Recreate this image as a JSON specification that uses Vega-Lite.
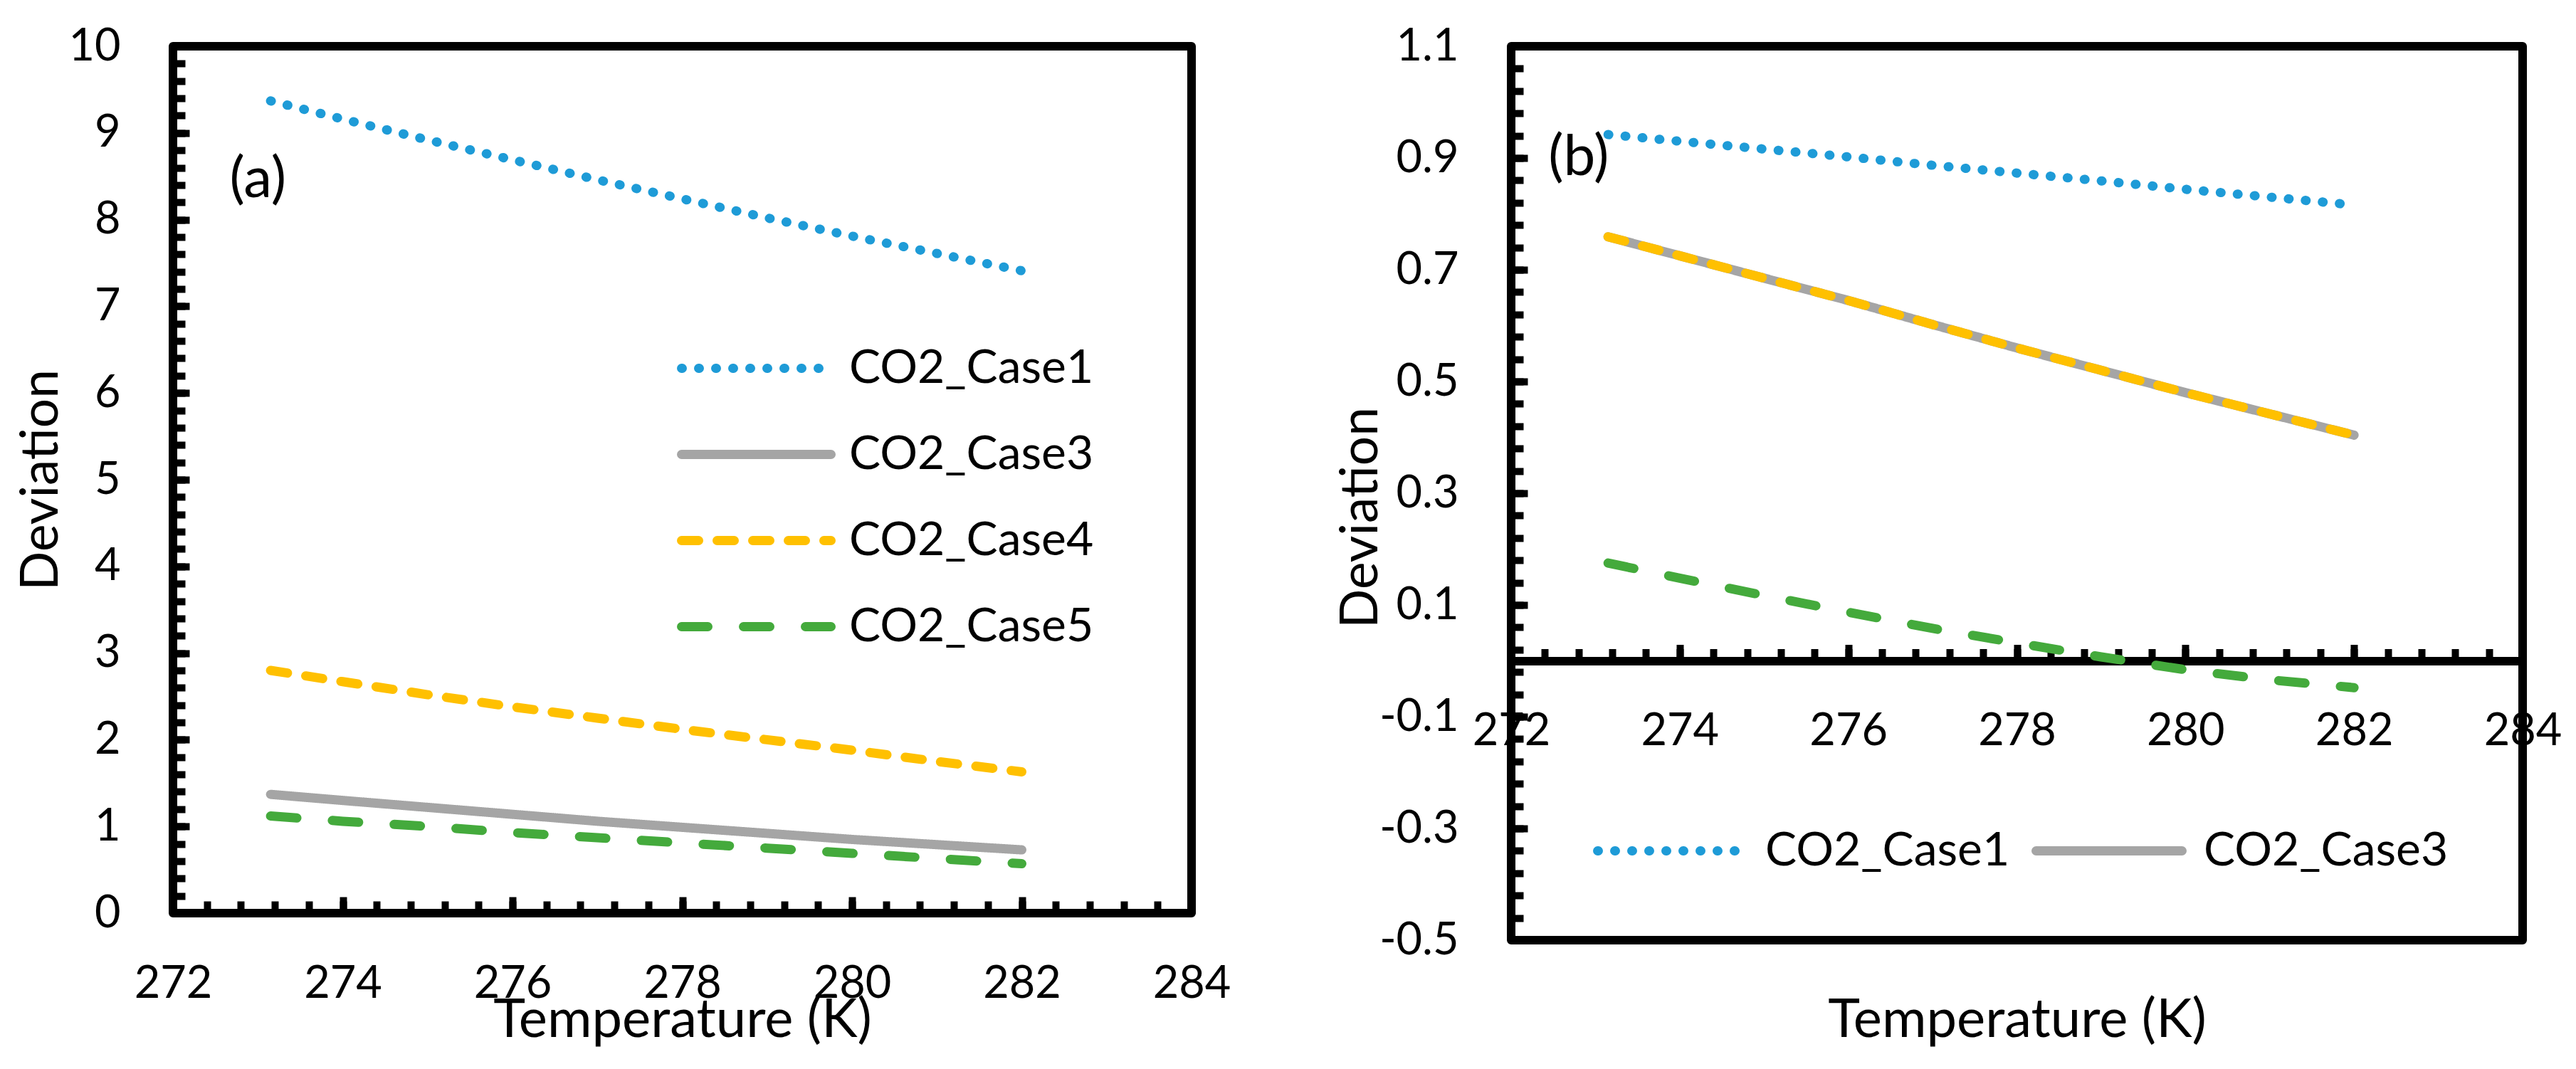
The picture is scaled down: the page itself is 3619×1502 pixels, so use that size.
{
  "$schema": "https://vega.github.io/schema/vega-lite/v6.json",
  "background": "white",
  "padding": {"left": 16, "top": 28, "right": 10, "bottom": 10},
  "spacing": 135,
  "datasets": {
    "panelA": [
      {"T": 273.15, "dev": 9.37, "series": "CO2_Case1"},
      {"T": 274, "dev": 9.16, "series": "CO2_Case1"},
      {"T": 275, "dev": 8.92, "series": "CO2_Case1"},
      {"T": 276, "dev": 8.69, "series": "CO2_Case1"},
      {"T": 277, "dev": 8.46, "series": "CO2_Case1"},
      {"T": 278, "dev": 8.24, "series": "CO2_Case1"},
      {"T": 279, "dev": 8.02, "series": "CO2_Case1"},
      {"T": 280, "dev": 7.81, "series": "CO2_Case1"},
      {"T": 281, "dev": 7.61, "series": "CO2_Case1"},
      {"T": 282, "dev": 7.41, "series": "CO2_Case1"},
      {"T": 273.15, "dev": 1.37, "series": "CO2_Case3"},
      {"T": 274, "dev": 1.30, "series": "CO2_Case3"},
      {"T": 275, "dev": 1.22, "series": "CO2_Case3"},
      {"T": 276, "dev": 1.14, "series": "CO2_Case3"},
      {"T": 277, "dev": 1.06, "series": "CO2_Case3"},
      {"T": 278, "dev": 0.99, "series": "CO2_Case3"},
      {"T": 279, "dev": 0.92, "series": "CO2_Case3"},
      {"T": 280, "dev": 0.85, "series": "CO2_Case3"},
      {"T": 281, "dev": 0.79, "series": "CO2_Case3"},
      {"T": 282, "dev": 0.73, "series": "CO2_Case3"},
      {"T": 273.15, "dev": 2.80, "series": "CO2_Case4"},
      {"T": 274, "dev": 2.67, "series": "CO2_Case4"},
      {"T": 275, "dev": 2.52, "series": "CO2_Case4"},
      {"T": 276, "dev": 2.38, "series": "CO2_Case4"},
      {"T": 277, "dev": 2.25, "series": "CO2_Case4"},
      {"T": 278, "dev": 2.12, "series": "CO2_Case4"},
      {"T": 279, "dev": 2.00, "series": "CO2_Case4"},
      {"T": 280, "dev": 1.88, "series": "CO2_Case4"},
      {"T": 281, "dev": 1.75, "series": "CO2_Case4"},
      {"T": 282, "dev": 1.63, "series": "CO2_Case4"},
      {"T": 273.15, "dev": 1.12, "series": "CO2_Case5"},
      {"T": 274, "dev": 1.06, "series": "CO2_Case5"},
      {"T": 275, "dev": 1.00, "series": "CO2_Case5"},
      {"T": 276, "dev": 0.93, "series": "CO2_Case5"},
      {"T": 277, "dev": 0.87, "series": "CO2_Case5"},
      {"T": 278, "dev": 0.81, "series": "CO2_Case5"},
      {"T": 279, "dev": 0.75, "series": "CO2_Case5"},
      {"T": 280, "dev": 0.69, "series": "CO2_Case5"},
      {"T": 281, "dev": 0.63, "series": "CO2_Case5"},
      {"T": 282, "dev": 0.57, "series": "CO2_Case5"}
    ],
    "panelB": [
      {"T": 273.15, "dev": 0.942, "series": "CO2_Case1"},
      {"T": 274, "dev": 0.930, "series": "CO2_Case1"},
      {"T": 275, "dev": 0.916, "series": "CO2_Case1"},
      {"T": 276, "dev": 0.902, "series": "CO2_Case1"},
      {"T": 277, "dev": 0.887, "series": "CO2_Case1"},
      {"T": 278, "dev": 0.873, "series": "CO2_Case1"},
      {"T": 279, "dev": 0.859, "series": "CO2_Case1"},
      {"T": 280, "dev": 0.844, "series": "CO2_Case1"},
      {"T": 281, "dev": 0.830, "series": "CO2_Case1"},
      {"T": 282, "dev": 0.816, "series": "CO2_Case1"},
      {"T": 273.15, "dev": 0.759, "series": "CO2_Case3"},
      {"T": 274, "dev": 0.725, "series": "CO2_Case3"},
      {"T": 275, "dev": 0.685, "series": "CO2_Case3"},
      {"T": 276, "dev": 0.645, "series": "CO2_Case3"},
      {"T": 277, "dev": 0.602, "series": "CO2_Case3"},
      {"T": 278, "dev": 0.560, "series": "CO2_Case3"},
      {"T": 279, "dev": 0.520, "series": "CO2_Case3"},
      {"T": 280, "dev": 0.480, "series": "CO2_Case3"},
      {"T": 281, "dev": 0.442, "series": "CO2_Case3"},
      {"T": 282, "dev": 0.404, "series": "CO2_Case3"},
      {"T": 273.15, "dev": 0.759, "series": "CO2_Case4"},
      {"T": 274, "dev": 0.725, "series": "CO2_Case4"},
      {"T": 275, "dev": 0.685, "series": "CO2_Case4"},
      {"T": 276, "dev": 0.645, "series": "CO2_Case4"},
      {"T": 277, "dev": 0.602, "series": "CO2_Case4"},
      {"T": 278, "dev": 0.560, "series": "CO2_Case4"},
      {"T": 279, "dev": 0.520, "series": "CO2_Case4"},
      {"T": 280, "dev": 0.480, "series": "CO2_Case4"},
      {"T": 281, "dev": 0.442, "series": "CO2_Case4"},
      {"T": 282, "dev": 0.404, "series": "CO2_Case4"},
      {"T": 273.15, "dev": 0.175, "series": "CO2_Case5"},
      {"T": 274, "dev": 0.148, "series": "CO2_Case5"},
      {"T": 275, "dev": 0.117, "series": "CO2_Case5"},
      {"T": 276, "dev": 0.087, "series": "CO2_Case5"},
      {"T": 277, "dev": 0.058, "series": "CO2_Case5"},
      {"T": 278, "dev": 0.032, "series": "CO2_Case5"},
      {"T": 279, "dev": 0.007, "series": "CO2_Case5"},
      {"T": 280, "dev": -0.016, "series": "CO2_Case5"},
      {"T": 281, "dev": -0.034, "series": "CO2_Case5"},
      {"T": 282, "dev": -0.048, "series": "CO2_Case5"}
    ],
    "tagA": [{"T": 273.0, "dev": 8.46, "label": "(a)"}],
    "tagB": [{"T": 272.8, "dev": 0.90, "label": "(b)"}]
  },
  "hconcat": [
    {
      "width": 1431,
      "height": 1218,
      "resolve": {"axis": {"x": "independent", "y": "independent"}},
      "layer": [
        {
          "data": {"name": "panelA"},
          "mark": {"type": "line", "strokeWidth": 13, "strokeCap": "round", "strokeJoin": "round"},
          "encoding": {
            "x": {
              "field": "T", "type": "quantitative",
              "scale": {"domain": [272, 284], "nice": false, "zero": false},
              "axis": {
                "values": [272, 274, 276, 278, 280, 282, 284],
                "tickSize": -23, "labelPadding": 91, "labelFlush": false, "labelOverlap": false,
                "title": "Temperature (K)", "titleY": 173, "titleBaseline": "alphabetic"
              }
            },
            "y": {
              "field": "dev", "type": "quantitative",
              "scale": {"domain": [0, 10], "nice": false},
              "axis": {
                "values": [0, 1, 2, 3, 4, 5, 6, 7, 8, 9, 10],
                "tickSize": -23, "labelPadding": 97, "labelFlush": false, "labelOverlap": false,
                "title": "Deviation", "titleX": -163, "titleBaseline": "alphabetic"
              }
            },
            "color": {
              "field": "series", "type": "nominal",
              "scale": {
                "domain": ["CO2_Case1", "CO2_Case3", "CO2_Case4", "CO2_Case5"],
                "range": ["#1E9BD7", "#A5A5A5", "#FFC000", "#44AA3C"]
              },
              "legend": {
                "orient": "none", "legendX": 708, "legendY": 393, "direction": "vertical",
                "title": null, "symbolType": "stroke", "symbolSize": 44100, "symbolStrokeWidth": 13,
                "labelFontSize": 66, "labelOffset": 19, "labelLimit": 1000,
                "clipHeight": 119, "rowPadding": 2, "padding": 0,
                "encode": {"symbols": {"update": {"strokeCap": {"value": "round"}}}}
              }
            },
            "strokeDash": {
              "field": "series", "type": "nominal",
              "scale": {
                "domain": ["CO2_Case1", "CO2_Case3", "CO2_Case4", "CO2_Case5"],
                "range": [[1, 23], [1, 0], [24, 26], [37, 50]]
              },
              "legend": {
                "orient": "none", "legendX": 708, "legendY": 393, "direction": "vertical",
                "title": null, "symbolType": "stroke", "symbolSize": 44100, "symbolStrokeWidth": 13,
                "labelFontSize": 66, "labelOffset": 19, "labelLimit": 1000,
                "clipHeight": 119, "rowPadding": 2, "padding": 0,
                "encode": {"symbols": {"update": {"strokeCap": {"value": "round"}}}}
              }
            }
          }
        },
        {
          "data": {"name": "tagA"},
          "mark": {"type": "text", "fontSize": 80, "align": "center", "baseline": "middle", "color": "black"},
          "encoding": {
            "x": {
              "field": "T", "type": "quantitative",
              "scale": {"domain": [272, 284], "nice": false, "zero": false},
              "axis": {
                "orient": "bottom",
                "values": [272, 272.4, 272.8, 273.2, 273.6, 274, 274.4, 274.8, 275.2, 275.6, 276, 276.4, 276.8, 277.2, 277.6, 278, 278.4, 278.8, 279.2, 279.6, 280, 280.4, 280.8, 281.2, 281.6, 282, 282.4, 282.8, 283.2, 283.6, 284],
                "tickSize": -17, "labels": false, "title": null
              }
            },
            "y": {
              "field": "dev", "type": "quantitative",
              "scale": {"domain": [0, 10], "nice": false},
              "axis": {
                "orient": "left",
                "values": [0, 0.2, 0.4, 0.6, 0.8, 1, 1.2, 1.4, 1.6, 1.8, 2, 2.2, 2.4, 2.6, 2.8, 3, 3.2, 3.4, 3.6, 3.8, 4, 4.2, 4.4, 4.6, 4.8, 5, 5.2, 5.4, 5.6, 5.8, 6, 6.2, 6.4, 6.6, 6.8, 7, 7.2, 7.4, 7.6, 7.8, 8, 8.2, 8.4, 8.6, 8.8, 9, 9.2, 9.4, 9.6, 9.8, 10],
                "tickSize": -17, "labels": false, "title": null
              }
            },
            "text": {"field": "label"}
          }
        }
      ]
    },
    {
      "width": 1421,
      "height": 1256,
      "resolve": {"axis": {"x": "independent", "y": "independent"}},
      "layer": [
        {
          "data": {"name": "panelB"},
          "mark": {"type": "line", "strokeWidth": 13, "strokeCap": "round", "strokeJoin": "round"},
          "encoding": {
            "x": {
              "field": "T", "type": "quantitative",
              "scale": {"domain": [272, 284], "nice": false, "zero": false},
              "axis": {
                "values": [272, 274, 276, 278, 280, 282, 284],
                "offset": -392.5, "domain": true, "domainColor": "black", "domainWidth": 12,
                "tickSize": -23, "labelPadding": 91, "labelFlush": false, "labelOverlap": false,
                "title": "Temperature (K)", "titleY": 528, "titleBaseline": "alphabetic"
              }
            },
            "y": {
              "field": "dev", "type": "quantitative",
              "scale": {"domain": [-0.5, 1.1], "nice": false, "zero": false},
              "axis": {
                "values": [-0.5, -0.3, -0.1, 0.1, 0.3, 0.5, 0.7, 0.9, 1.1],
                "labelExpr": "replace(format(datum.value, '.1f'), '\u2212', '-')",
                "tickSize": -23, "labelPadding": 97, "labelFlush": false, "labelOverlap": false,
                "title": "Deviation", "titleX": -189, "titleY": 662, "titleBaseline": "alphabetic"
              }
            },
            "color": {
              "field": "series", "type": "nominal",
              "scale": {
                "domain": ["CO2_Case1", "CO2_Case3", "CO2_Case4", "CO2_Case5"],
                "range": ["#1E9BD7", "#A5A5A5", "#FFC000", "#44AA3C"]
              },
              "legend": {
                "orient": "none", "legendX": 115, "legendY": 1071, "direction": "horizontal",
                "values": ["CO2_Case1", "CO2_Case3"],
                "title": null, "symbolType": "stroke", "symbolSize": 42025, "symbolStrokeWidth": 13,
                "labelFontSize": 66, "labelOffset": 24, "labelLimit": 1000, "columnPadding": 30,
                "clipHeight": 119, "padding": 0,
                "encode": {"symbols": {"update": {"strokeCap": {"value": "round"}}}}
              }
            },
            "strokeDash": {
              "field": "series", "type": "nominal",
              "scale": {
                "domain": ["CO2_Case1", "CO2_Case3", "CO2_Case4", "CO2_Case5"],
                "range": [[1, 23], [1, 0], [24, 26], [37, 50]]
              },
              "legend": {
                "orient": "none", "legendX": 115, "legendY": 1071, "direction": "horizontal",
                "values": ["CO2_Case1", "CO2_Case3"],
                "title": null, "symbolType": "stroke", "symbolSize": 42025, "symbolStrokeWidth": 13,
                "labelFontSize": 66, "labelOffset": 24, "labelLimit": 1000, "columnPadding": 30,
                "clipHeight": 119, "padding": 0,
                "encode": {"symbols": {"update": {"strokeCap": {"value": "round"}}}}
              }
            }
          }
        },
        {
          "data": {"name": "tagB"},
          "mark": {"type": "text", "fontSize": 80, "align": "center", "baseline": "middle", "color": "black"},
          "encoding": {
            "x": {
              "field": "T", "type": "quantitative",
              "scale": {"domain": [272, 284], "nice": false, "zero": false},
              "axis": {
                "orient": "bottom", "offset": -392.5,
                "values": [272, 272.4, 272.8, 273.2, 273.6, 274, 274.4, 274.8, 275.2, 275.6, 276, 276.4, 276.8, 277.2, 277.6, 278, 278.4, 278.8, 279.2, 279.6, 280, 280.4, 280.8, 281.2, 281.6, 282, 282.4, 282.8, 283.2, 283.6, 284],
                "tickSize": -17, "labels": false, "title": null
              }
            },
            "y": {
              "field": "dev", "type": "quantitative",
              "scale": {"domain": [-0.5, 1.1], "nice": false, "zero": false},
              "axis": {
                "orient": "left",
                "values": [-0.5, -0.46, -0.42, -0.38, -0.34, -0.3, -0.26, -0.22, -0.18, -0.14, -0.1, -0.06, -0.02, 0.02, 0.06, 0.1, 0.14, 0.18, 0.22, 0.26, 0.3, 0.34, 0.38, 0.42, 0.46, 0.5, 0.54, 0.58, 0.62, 0.66, 0.7, 0.74, 0.78, 0.82, 0.86, 0.9, 0.94, 0.98, 1.02, 1.06, 1.1],
                "tickSize": -17, "labels": false, "title": null
              }
            },
            "text": {"field": "label"}
          }
        }
      ]
    }
  ],
  "resolve": {
    "scale": {"color": "independent", "strokeDash": "independent"},
    "legend": {"color": "independent", "strokeDash": "independent"}
  },
  "config": {
    "font": "Lato",
    "view": {"stroke": "black", "strokeWidth": 12, "strokeJoin": "round"},
    "axis": {
      "labelFont": "Lato", "titleFont": "Lato", "labelColor": "black", "titleColor": "black",
      "tickColor": "black", "tickWidth": 10, "grid": false, "domain": false,
      "labelFontSize": 63, "titleFontSize": 73, "titleFontWeight": "normal", "labelBound": false
    },
    "axisX": {"titleFontSize": 76},
    "legend": {"labelFont": "Lato", "labelColor": "black"},
    "text": {"font": "Lato"}
  }
}
